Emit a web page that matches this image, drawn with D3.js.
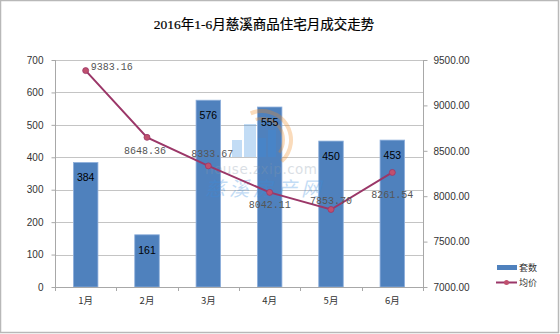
<!DOCTYPE html>
<html><head><meta charset="utf-8">
<script src="https://cdn.jsdelivr.net/npm/d3@7/dist/d3.min.js"></script>
<style>body{margin:0;background:#fff}svg{display:block}</style>
</head><body>
<script>
const title = "2016年1-6月慈溪商品住宅月成交走势";
const months = ["1月","2月","3月","4月","5月","6月"];
const units = [384,161,576,555,450,453];
const prices = [9383.16,8648.36,8333.67,8042.11,7853.70,8261.54];
const leftTicks = [0,100,200,300,400,500,600,700];
const rightTicks = [7000,7500,8000,8500,9000,9500];
const seriesNames = ["套数","均价"];
// label placement (style): offsets relative to point
const priceLabelOffsets = [[5,-5,"start"],[-2,13,"middle"],[4,-13,"middle"],[0,12,"middle"],[0,-9,"middle"],[0,22,"middle"]];

const W=560,H=334;
const svg=d3.select("body").append("svg").attr("width",W).attr("height",H);
svg.append("rect").attr("x",0.5).attr("y",0.5).attr("width",W-2).attr("height",H-2)
  .attr("fill","#fff").attr("stroke","#b8b8b8").attr("stroke-width",1.5);

const m={l:55,r:423,t:60,b:287};
const x=d3.scaleBand().domain(months).range([m.l,m.r]).paddingInner(0.6).paddingOuter(0.3);
const xb=d3.scaleBand().domain(months).range([m.l,m.r]);
const yL=d3.scaleLinear().domain([0,700]).range([m.b,m.t]);
const yR=d3.scaleLinear().domain([7000,9500]).range([m.b,m.t]);

svg.append("text").attr("x",264).attr("y",29).attr("text-anchor","middle")
  .attr("font-family","'Liberation Serif','Noto Sans CJK SC',serif").attr("font-size",13.5)
  .attr("fill","#000").attr("stroke","#000").attr("stroke-width",0.2).text(title);

// gridlines
svg.append("g").selectAll("line").data(leftTicks.slice(1)).join("line")
  .attr("x1",m.l).attr("x2",m.r).attr("y1",d=>Math.round(yL(d))+0.5).attr("y2",d=>Math.round(yL(d))+0.5)
  .attr("stroke","#c4c4c4").attr("stroke-width",1);

// bars
svg.append("g").selectAll("rect").data(units).join("rect")
  .attr("x",(d,i)=>x(months[i])).attr("width",x.bandwidth())
  .attr("y",d=>yL(d)).attr("height",d=>m.b-yL(d))
  .attr("fill","#4f81bd").attr("stroke","#8fb0dc").attr("stroke-width",0.8);

// watermark (semi-transparent, over bars)
const wm=svg.append("g").attr("opacity",0.3);
wm.append("path").attr("d",d3.arc()({innerRadius:27,outerRadius:31,startAngle:-0.4,endAngle:2.4})).attr("transform","translate(262,140)").attr("fill","#f08a20");
wm.append("path").attr("d",d3.arc()({innerRadius:20,outerRadius:23,startAngle:-0.3,endAngle:2.2})).attr("transform","translate(262,140)").attr("fill","#f08a20");
[[232,140,10,17],[244,124,12,33],[258,138,8,19],[268,130,8,27]].forEach(r=>{
  wm.append("rect").attr("x",r[0]).attr("y",r[1]).attr("width",r[2]).attr("height",r[3]).attr("fill","#3a8ee0");});
wm.append("text").attr("x",205).attr("y",174).attr("font-family","'DejaVu Sans',sans-serif").attr("font-size",13.5).attr("fill","#8899aa").attr("letter-spacing",0.5).text("house.zxip.com");
wm.append("text").attr("x",205).attr("y",196).attr("font-family","'Noto Sans CJK SC',sans-serif").attr("font-size",20).attr("font-style","italic").attr("fill","#3a8ee0").attr("letter-spacing",4).text("慈溪房产网");

svg.append("g").selectAll("text").data(units).join("text")
  .attr("x",(d,i)=>xb(months[i])+xb.bandwidth()/2).attr("y",d=>yL(d)+19)
  .attr("text-anchor","middle").attr("font-family","'Liberation Sans',sans-serif").attr("font-size",10.5)
  .attr("fill","#000").text(d=>d);

// axes lines
svg.append("line").attr("x1",m.l+0.5).attr("x2",m.l+0.5).attr("y1",m.t).attr("y2",m.b).attr("stroke","#a8a8a8");
svg.append("line").attr("x1",m.r+0.5).attr("x2",m.r+0.5).attr("y1",m.t).attr("y2",m.b).attr("stroke","#a8a8a8");
svg.append("line").attr("x1",m.l).attr("x2",m.r).attr("y1",m.b+0.5).attr("y2",m.b+0.5).attr("stroke","#a8a8a8");

const gl=svg.append("g").attr("transform",`translate(${m.l+0.5},0)`)
  .call(d3.axisLeft(yL).tickValues(leftTicks).tickSize(4).tickPadding(8).tickFormat(d3.format("d")));
const gr=svg.append("g").attr("transform",`translate(${m.r+0.5},0)`)
  .call(d3.axisRight(yR).tickValues(rightTicks).tickSize(4).tickPadding(6).tickFormat(d3.format(".2f")));
[gl,gr].forEach(g=>{g.select(".domain").remove();
  g.selectAll("line").attr("stroke","#a8a8a8");
  g.selectAll("text").attr("font-family","'Liberation Sans',sans-serif").attr("font-size",10).attr("fill","#333");});

// x ticks
svg.append("g").selectAll("line").data(d3.range(months.length+1)).join("line")
  .attr("x1",i=>Math.round(m.l+i*xb.bandwidth())+0.5).attr("x2",i=>Math.round(m.l+i*xb.bandwidth())+0.5)
  .attr("y1",m.b).attr("y2",m.b+4).attr("stroke","#a8a8a8");
svg.append("g").selectAll("text").data(months).join("text")
  .attr("x",d=>xb(d)+xb.bandwidth()/2).attr("y",304).attr("text-anchor","middle")
  .attr("font-family","'Noto Sans CJK SC',sans-serif").attr("font-size",9.5).attr("fill","#333").text(d=>d);

// line
const px=(d,i)=>xb(months[i])+xb.bandwidth()/2;
svg.append("path").datum(prices)
  .attr("d",d3.line().x(px).y(d=>yR(d)))
  .attr("fill","none").attr("stroke","#9b3768").attr("stroke-width",2);
svg.append("g").selectAll("circle").data(prices).join("circle")
  .attr("cx",px).attr("cy",d=>yR(d)).attr("r",3)
  .attr("fill","#c0506e").attr("stroke","#9b3768").attr("stroke-width",0.8);
svg.append("g").selectAll("text").data(prices).join("text")
  .attr("x",(d,i)=>px(d,i)+priceLabelOffsets[i][0]).attr("y",(d,i)=>yR(d)+priceLabelOffsets[i][1]+4)
  .attr("text-anchor",(d,i)=>priceLabelOffsets[i][2])
  .attr("font-family","'Liberation Mono',monospace").attr("font-size",10).attr("fill","#555")
  .text(d=>d.toFixed(2));

// legend
const lg=svg.append("g");
lg.append("rect").attr("x",497).attr("y",265).attr("width",20).attr("height",5).attr("fill","#4f81bd");
lg.append("text").attr("x",519).attr("y",271).attr("font-family","'Noto Sans CJK SC',sans-serif").attr("font-size",9).attr("fill","#333").text(seriesNames[0]);
lg.append("line").attr("x1",496).attr("x2",517).attr("y1",282.5).attr("y2",282.5).attr("stroke","#9b3768").attr("stroke-width",2);
lg.append("circle").attr("cx",506.5).attr("cy",282.5).attr("r",2.5).attr("fill","#c0506e");
lg.append("text").attr("x",519).attr("y",286).attr("font-family","'Noto Sans CJK SC',sans-serif").attr("font-size",9).attr("fill","#333").text(seriesNames[1]);
</script>
</body></html>
